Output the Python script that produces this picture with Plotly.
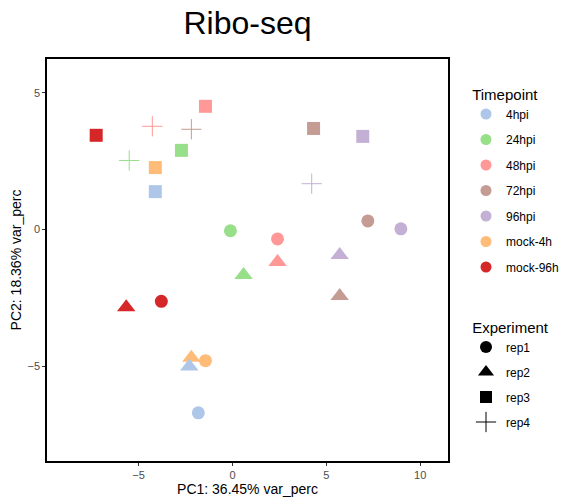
import plotly.graph_objects as go

# ---- data ----
timepoints = ["4hpi", "24hpi", "48hpi", "72hpi", "96hpi", "mock-4h", "mock-96h"]
tp_colors = ["#AEC7E8", "#98DF8A", "#FF9896", "#C49C94", "#C5B0D5", "#FFBB78", "#D62728"]
experiments = ["rep1", "rep2", "rep3", "rep4"]

sample_tp = ["mock-96h", "48hpi", "72hpi", "48hpi", "24hpi", "mock-4h", "24hpi", "4hpi",
             "72hpi", "96hpi", "96hpi", "24hpi", "48hpi", "72hpi", "96hpi",
             "24hpi", "48hpi", "96hpi", "72hpi", "mock-96h", "mock-96h",
             "mock-4h", "mock-4h", "4hpi", "4hpi"]
sample_exp = ["rep3", "rep4", "rep4", "rep3", "rep4", "rep3", "rep3", "rep3",
              "rep3", "rep3", "rep4", "rep1", "rep1", "rep1", "rep1",
              "rep2", "rep2", "rep2", "rep2", "rep2", "rep1",
              "rep2", "rep1", "rep2", "rep1"]
pc1 = [-7.26, -4.27, -2.19, -1.44, -5.50, -4.11, -2.72, -4.11,
       4.32, 6.94, 4.22, -0.11, 2.40, 7.21, 8.97,
       0.59, 2.40, 5.71, 5.71, -5.66, -3.79,
       -2.19, -1.44, -2.30, -1.82]
pc2 = [3.45, 3.78, 3.67, 4.51, 2.53, 2.27, 2.90, 1.39,
       3.70, 3.41, 1.68, -0.04, -0.34, 0.32, 0.03,
       -1.66, -1.18, -0.93, -2.43, -2.84, -2.62,
       -4.68, -4.79, -5.00, -6.70]

x_ticks = [-5, 0, 5, 10]
y_ticks = [-5, 0, 5]

sym = {"rep1": "circle", "rep2": "triangle-up", "rep3": "square", "rep4": "cross-thin-open"}
msize = {"rep1": 13, "rep2": 16, "rep3": 13, "rep4": 14.5}
cmap = dict(zip(timepoints, tp_colors))

FONT = "Liberation Sans, Arial, sans-serif"
fig = go.Figure()

for e in experiments:
    idx = [i for i, s in enumerate(sample_exp) if s == e]
    cols = [cmap[sample_tp[i]] for i in idx]
    if e == "rep4":
        marker = dict(symbol=sym[e], size=msize[e], color=cols,
                      line=dict(color=cols, width=1))
    else:
        marker = dict(symbol=sym[e], size=msize[e], color=cols, line=dict(width=0))
    fig.add_trace(go.Scatter(x=[pc1[i] for i in idx], y=[pc2[i] for i in idx],
                             mode="markers", marker=marker, showlegend=False,
                             hoverinfo="x+y"))

# legend: Timepoint
for t, c in zip(timepoints, tp_colors):
    fig.add_trace(go.Scatter(x=[None], y=[None], mode="markers", name=t,
                             marker=dict(symbol="circle", size=11, color=c),
                             legend="legend", legendgroup="tp_" + t))
# legend: Experiment
for e in experiments:
    if e == "rep4":
        mk = dict(symbol=sym[e], size=14.5, color="black", line=dict(color="black", width=1))
    else:
        mk = dict(symbol=sym[e], size=12 if e != "rep2" else 14, color="black")
    fig.add_trace(go.Scatter(x=[None], y=[None], mode="markers", name=e,
                             marker=mk, legend="legend2", legendgroup="ex_" + e))

axis_common = dict(showgrid=False, zeroline=False, showline=True, linecolor="black",
                   linewidth=1.5, mirror=True, ticks="outside", ticklen=3,
                   tickcolor="#333333", tickwidth=1, automargin=False,
                   tickfont=dict(family=FONT, size=11, color="#4D4D4D"))

fig.update_layout(
    width=563, height=499,
    margin=dict(l=47, r=115, t=59, b=38, autoexpand=False),
    paper_bgcolor="white", plot_bgcolor="white",
    font=dict(family=FONT, color="black"),
    title=dict(text="Ribo-seq", x=(47 + 448) / 2 / 563, xanchor="center",
               y=1 - 23 / 499, yanchor="middle",
               font=dict(size=32, family=FONT, color="black")),
    xaxis=dict(range=[-9.88, 11.48], tickvals=x_ticks,
               title=dict(text="PC1: 36.45% var_perc", font=dict(size=14, family=FONT),
                          standoff=4),
               **axis_common),
    yaxis=dict(range=[-8.46, 6.24], tickvals=y_ticks,
               title=dict(text="PC2: 18.36% var_perc", font=dict(size=14, family=FONT),
                          standoff=3),
               **axis_common),
    legend=dict(title=dict(text="&nbsp;Timepoint", font=dict(size=15, family=FONT)),
                font=dict(size=12, family=FONT), xref="container", yref="container",
                x=466 / 563, y=1 - 80 / 499, xanchor="left", yanchor="top",
                tracegroupgap=6.5, itemsizing="trace", bgcolor="rgba(0,0,0,0)"),
    legend2=dict(title=dict(text="&nbsp;Experiment", font=dict(size=15, family=FONT)),
                 font=dict(size=12, family=FONT), xref="container", yref="container",
                 x=466 / 563, y=1 - 313 / 499, xanchor="left", yanchor="top",
                 tracegroupgap=6, itemsizing="trace", bgcolor="rgba(0,0,0,0)"),
)

fig.write_html("out.html", config={"displayModeBar": False},
               post_script="document.body.style.margin='0';")
